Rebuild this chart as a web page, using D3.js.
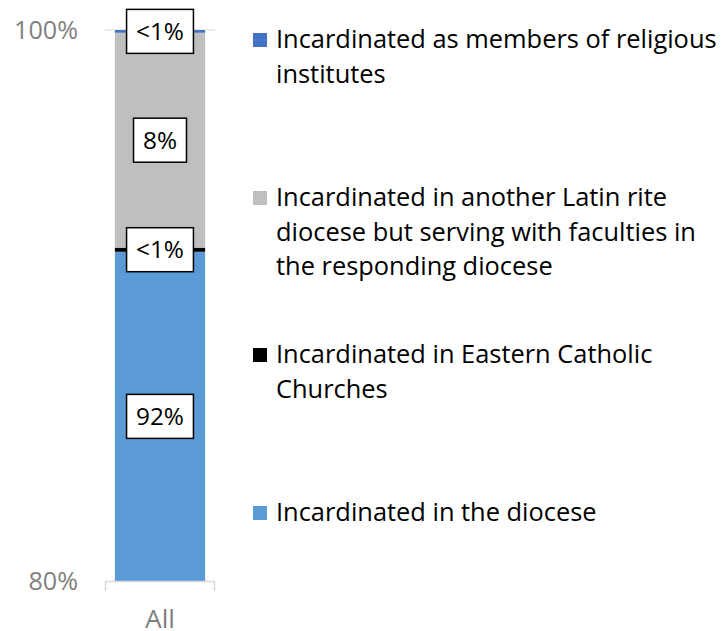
<!DOCTYPE html>
<html><head><meta charset="utf-8">
<script src="https://cdn.jsdelivr.net/npm/d3@7"></script>
<style>body{margin:0;background:#fff;} svg{display:block;}</style>
</head><body>
<svg id="chart" width="724" height="631"></svg>
<script>
const categories = ["All"];
const seriesNames = [
  "Incardinated in the diocese",
  "Incardinated in Eastern Catholic Churches",
  "Incardinated in another Latin rite diocese but serving with faculties in the responding diocese",
  "Incardinated as members of religious institutes"
];
const seriesValues = [91.95, 0.15, 7.8, 0.1];
const seriesLabels = ["92%", "<1%", "8%", "<1%"];
const seriesColors = ["#5B9BD5", "#000000", "#BFBFBF", "#4472C4"];
const legendLines = [
  ["Incardinated in the diocese"],
  ["Incardinated in Eastern Catholic", "Churches"],
  ["Incardinated in another Latin rite", "diocese but serving with faculties in", "the responding diocese"],
  ["Incardinated as members of religious", "institutes"]
];
const yTicks = [80, 100];

const font = "'Open Sans', sans-serif";
const svg = d3.select("#chart");

function fitSize(txt, target) {
  const t = svg.append("text").attr("font-family", font).attr("font-size", 100).text(txt);
  const w = t.node().getComputedTextLength();
  t.remove();
  return 100 * target / w;
}
const legendSize = fitSize("Incardinated as members of religious", 441);
const tickSize = fitSize("100%", 64);
const labelSize = fitSize("8%", 34);
const catSize = fitSize("All", 30);

const y = d3.scaleLinear().domain([80, 100]).range([581, 30]);
const x = d3.scaleBand().domain(categories).range([105, 215]).paddingInner(0.18).paddingOuter(0.09);

// gridline at 100
svg.append("line").attr("x1", 105).attr("x2", 215).attr("y1", y(100)).attr("y2", y(100))
  .attr("stroke", "#D9D9D9").attr("stroke-width", 1);

// stacked data
let acc = 0;
const stack = seriesValues.map((v, i) => { const s = {y0: acc, y1: acc + v, i}; acc += v; return s; });
const lo = y.domain()[0];

svg.selectAll("rect.seg").data(stack).enter().append("rect")
  .attr("x", x("All")).attr("width", x.bandwidth())
  .attr("y", d => y(d.y1))
  .attr("height", d => y(Math.max(d.y0, lo)) - y(d.y1))
  .attr("fill", d => seriesColors[d.i]);

// category axis
svg.append("path").attr("d", `M105.5,591V581.5H214.5V591`).attr("fill", "none")
  .attr("stroke", "#D9D9D9").attr("stroke-width", 1.5);

svg.selectAll("text.ytick").data(yTicks).enter().append("text")
  .attr("x", 78).attr("y", d => y(d)).attr("dy", "0.36em").attr("text-anchor", "end")
  .attr("font-family", font).attr("font-size", tickSize).attr("fill", "#7F7F7F").text(d => d + "%");

svg.append("text").attr("x", x("All") + x.bandwidth()/2).attr("y", 628)
  .attr("text-anchor", "middle").attr("font-family", font).attr("font-size", catSize).attr("fill", "#7F7F7F").text(categories[0]);

// data labels
const labelG = svg.selectAll("g.lab").data(stack).enter().append("g")
  .attr("transform", d => `translate(${x("All") + x.bandwidth()/2},${(y(Math.max(d.y0, lo)) + y(d.y1)) / 2})`);
labelG.each(function(d) {
  const g = d3.select(this);
  const t = g.append("text").attr("text-anchor", "middle").attr("dy", "0.36em")
    .attr("font-family", font).attr("font-size", labelSize).attr("fill", "#000").text(seriesLabels[d.i]);
  const w = t.node().getComputedTextLength();
  g.insert("rect", "text").attr("x", -w/2 - 9.5).attr("y", -22).attr("width", w + 19).attr("height", 44)
    .attr("fill", "#fff").attr("stroke", "#000").attr("stroke-width", 1.5);
});

// legend
const legendBaselines = [521, 363, 206, 48];
const lh = 34.7;
legendLines.forEach((lines, i) => {
  const g = svg.append("g");
  g.append("rect").attr("x", 253).attr("y", legendBaselines[i] - 15).attr("width", 14).attr("height", 14)
    .attr("fill", seriesColors[i]);
  lines.forEach((ln, j) => {
    g.append("text").attr("x", 276).attr("y", legendBaselines[i] + j * lh)
      .attr("font-family", font).attr("font-size", legendSize).attr("fill", "#000").text(ln);
  });
});
</script>
</body></html>
